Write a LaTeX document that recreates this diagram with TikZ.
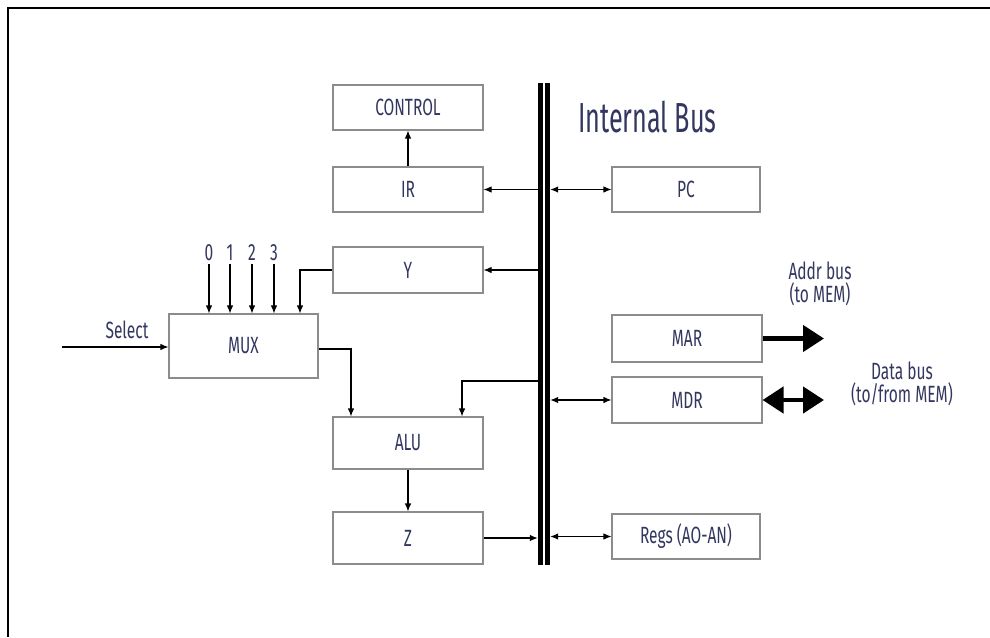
\documentclass[tikz,border=0pt]{standalone}
\usepackage{fontspec}
\newfontfamily\cond{Fira Sans}[FakeStretch=0.66]
\newfontfamily\condt{Fira Sans}[FakeStretch=0.6]
\usetikzlibrary{arrows.meta}
\definecolor{navy}{HTML}{33375F}
\definecolor{boxgray}{HTML}{8C8C8C}
\tikzset{
  box/.style={rectangle, draw=boxgray, line width=1.1pt, inner sep=0pt, fill=white,
    font=\cond\fontsize{23.5}{25}\selectfont, text=navy},
  lbl/.style={font=\cond\fontsize{23.5}{23}\selectfont, text=navy, inner sep=0pt, align=center},
  conn/.style={line width=1.1pt, -{Latex[length=8pt,width=6.5pt]}},
  biconn/.style={line width=1.1pt, {Latex[length=8pt,width=6.5pt]}-{Latex[length=8pt,width=6.5pt]}},
  fat/.style={line width=4.5pt, -{Triangle[length=21pt,width=26pt]}},
  bifat/.style={line width=4.5pt, {Triangle[length=21pt,width=26pt]}-{Triangle[length=21pt,width=26pt]}},
}
\begin{document}
\begin{tikzpicture}[x=1pt,y=-1pt]
\useasboundingbox (0,0) rectangle (990,637);
\fill[white] (0,0) rectangle (990,637);
% frame (cut at right and bottom)
\draw[line width=2.5pt] (8,637) -- (8,8) -- (990,8);

% bus
\node[rectangle, fill=black, inner sep=0pt, minimum width=12pt, minimum height=482pt] (bus) at (544,324) {};
\draw[white, line width=1.5pt] (bus.north) -- (bus.south);
\node[font=\condt\fontsize{42}{44}\selectfont, text=navy, inner sep=0pt, anchor=base west] (title) at (578,132) {Internal Bus};

% boxes
\node[box, minimum width=150pt, minimum height=45pt] (CONTROL) at (408,107.5) {CONTROL};
\node[box, minimum width=150pt, minimum height=45pt] (IR) at (408,189.5) {IR};
\node[box, minimum width=148pt, minimum height=45pt] (PC) at (686,189.5) {PC};
\node[box, minimum width=150pt, minimum height=46pt] (Y) at (408,270) {Y};
\node[box, minimum width=149pt, minimum height=64pt] (MUX) at (243.5,346) {MUX};
\node[box, minimum width=150pt, minimum height=47pt] (MAR) at (687,338.5) {MAR};
\node[box, minimum width=150pt, minimum height=46pt] (MDR) at (687,400) {MDR};
\node[box, minimum width=150pt, minimum height=52pt] (ALU) at (408,443) {ALU};
\node[box, minimum width=150pt, minimum height=52pt] (Z) at (408,538) {Z};
\node[box, minimum width=148pt, minimum height=45pt] (Regs) at (686,536.5) {Regs (AO-AN)};

% labels
\node[lbl] (n0) at (209,253) {0};
\node[lbl] (n1) at (230,253) {1};
\node[lbl] (n2) at (252,253) {2};
\node[lbl] (n3) at (274,253) {3};
\node[lbl] (sel) at (127,330) {Select};
\node[lbl] (addr) at (820,284) {Addr bus\\(to MEM)};
\node[lbl] (data) at (902,384) {Data bus\\(to/from MEM)};

\coordinate (selstart) at (62,347);
\coordinate (yin) at (300,270);
\coordinate (muxin) at (351,349);
\coordinate (aluin) at (462,381);
\coordinate (addrend) at (824,338.5);
\coordinate (dataend) at (824,400);

% connectors
\draw[conn] (IR.north) -- (CONTROL.south);
\draw[conn] (bus.west |- IR.east) -- (IR.east);
\draw[biconn] (bus.east |- PC.west) -- (PC.west);
\draw[conn] (bus.west |- Y.east) -- (Y.east);
\draw[conn] (Y.west) -- (yin) -- (yin |- MUX.north);
\foreach \n in {n0,n1,n2,n3} \draw[conn] ([yshift=-3pt]\n.south) -- (\n |- MUX.north);
\draw[conn] (selstart) -- (selstart -| MUX.west);
\draw[conn] (MUX.east |- muxin) -- (muxin) -- (muxin |- ALU.north);
\draw[conn] (bus.west |- aluin) -- (aluin) -- (aluin |- ALU.north);
\draw[conn] (ALU.south) -- (Z.north);
\draw[conn] (Z.east) -- (bus.west |- Z.east);
\draw[biconn] (bus.east |- MDR.west) -- (MDR.west);
\draw[biconn] (bus.east |- Regs.west) -- (Regs.west);
\draw[fat] (MAR.east) -- (addrend);
\draw[bifat] (MDR.east) -- (dataend);
\end{tikzpicture}
\end{document}
